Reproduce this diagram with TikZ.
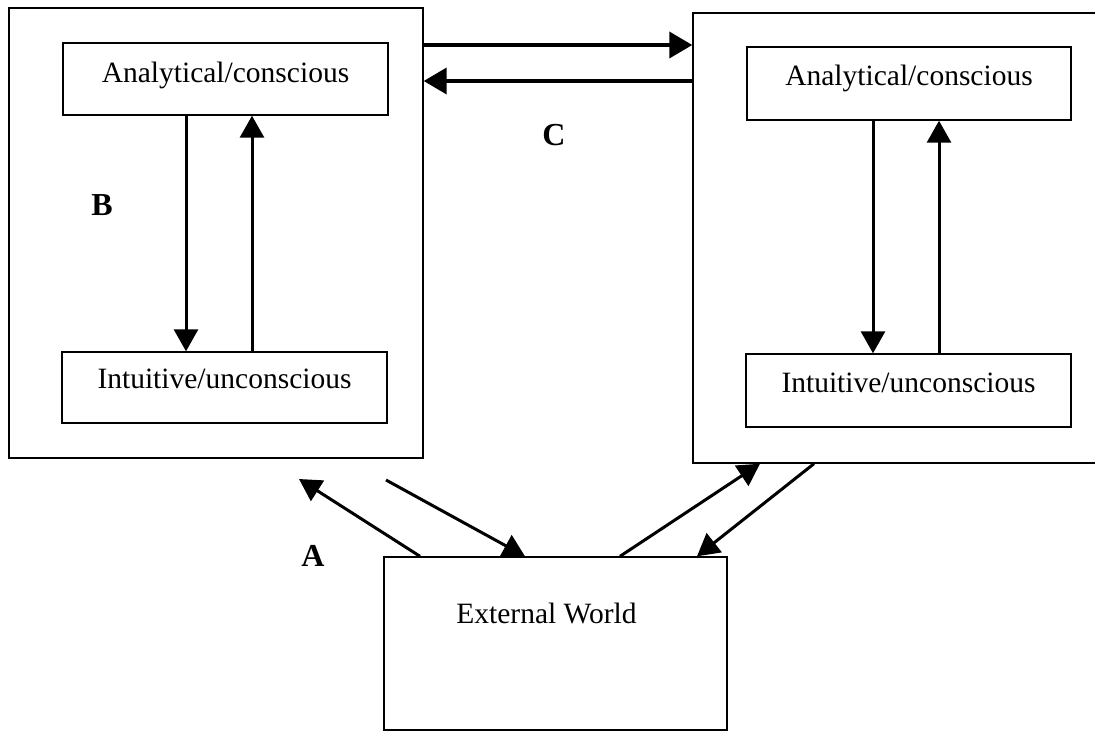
\documentclass[tikz,border=0pt]{standalone}
\usepackage{fontspec}
\setmainfont{Liberation Serif}
\usetikzlibrary{arrows.meta}
\begin{document}
\begin{tikzpicture}[x=1pt,y=-1pt,
  outerbox/.style={draw, line width=1.4pt, inner sep=0pt},
  innerbox/.style={draw, line width=1.4pt, inner sep=0pt, font=\fontsize{29.5}{32}\selectfont},
  link/.style={line width=3pt, -{Triangle[length=22pt,width=24pt]}},
  thick link/.style={line width=3.8pt, -{Triangle[length=23pt,width=26pt]}},
  tag/.style={font=\fontsize{32}{34}\selectfont\bfseries, inner sep=0pt}
]
\useasboundingbox (0,0) rectangle (1095,732);
% outer boxes
\node[outerbox, minimum width=414pt, minimum height=450pt] (L) at (216,233) {};
\node[outerbox, minimum width=410pt, minimum height=450pt] (R) at (898,238) {};
% inner boxes
\node[innerbox, minimum width=325pt, text height=39pt, text depth=33pt] (LA) at (225.5,79) {Analytical/conscious};
\node[innerbox, minimum width=325pt, text height=36pt, text depth=35pt] (LI) at (224.5,387.5) {Intuitive/unconscious};
\node[innerbox, minimum width=324pt, text height=38pt, text depth=35pt] (RA) at (909,83.5) {Analytical/conscious};
\node[innerbox, minimum width=325pt, text height=38pt, text depth=35pt] (RI) at (908.5,390.5) {Intuitive/unconscious};
\node[innerbox, minimum width=343pt, text height=66pt, text depth=107pt] (E) at (555.5,643.5) {External World\hspace*{18pt}};
% labels
\node[tag] (B) at (102,205) {B};
\node[tag] (C) at (554,135) {C};
\node[tag] (A) at (313,556) {A};
% B arrows (left)
\draw[link] (LA.south -| 186,0) -- (LI.north -| 186,0);
\draw[link] (LI.north -| 252,0) -- (LA.south -| 252,0);
% right inner arrows
\draw[link] (RA.south -| 873,0) -- (RI.north -| 873,0);
\draw[link] (RI.north -| 939,0) -- (RA.south -| 939,0);
% C arrows
\draw[thick link] (L.east |- 0,45) -- (R.west |- 0,45);
\draw[thick link] (R.west |- 0,81) -- (L.east |- 0,81);
% A arrows
\coordinate (a1end) at (299,479);
\coordinate (a2start) at (386,480);
\draw[link] (E.north -| 420,0) -- (a1end);
\draw[link] (a2start) -- (E.north -| 525,0);
\draw[link] (E.north -| 620,0) -- (R.south -| 760,0);
\draw[link] (R.south -| 814,0) -- (E.north -| 697,0);
\end{tikzpicture}
\end{document}
